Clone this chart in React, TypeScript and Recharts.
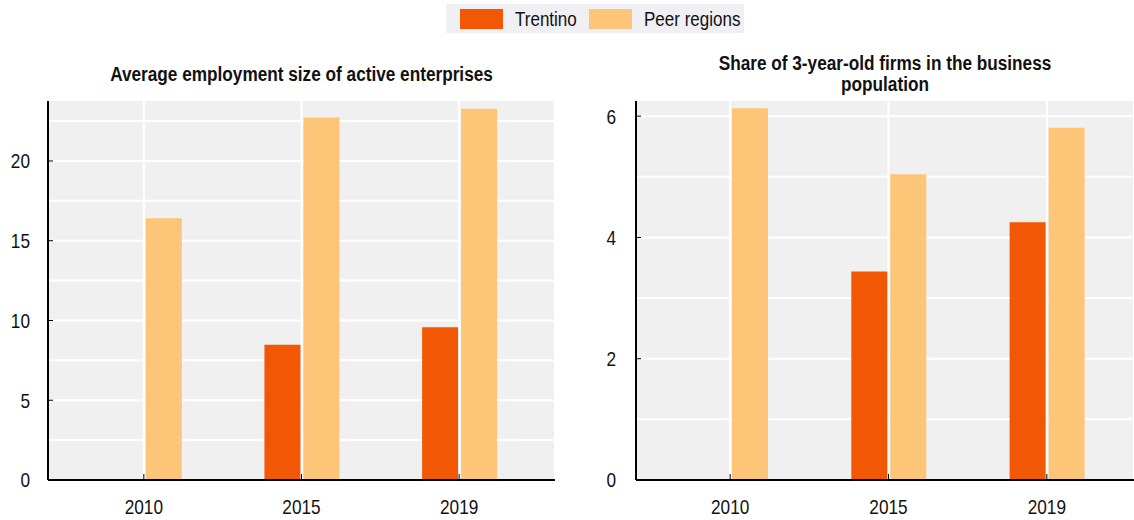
import { Bar, BarChart, CartesianGrid, XAxis, YAxis } from "recharts";

const years = ["2010", "2015", "2019"];

// average employment size of active enterprises
const employTrentino = [null, 8.48, 9.57];
const employPeer = [16.41, 22.72, 23.28];
const employTicks = [0, 5, 10, 15, 20];
const employGrid = [2.5, 5, 7.5, 10, 12.5, 15, 17.5, 20, 22.5];

// share of 3-year-old firms
const shareTrentino = [null, 3.44, 4.25];
const sharePeer = [6.13, 5.04, 5.81];
const shareTicks = [0, 2, 4, 6];
const shareGrid = [1, 2, 3, 4, 5, 6];

// no narrow font installed, so squeeze Liberation Sans
const FONT = "'Liberation Sans', Arial, sans-serif";
const SQUEEZE = 0.82;
const TRENTINO = "#f25705";
const PEER = "#fdc578";

function NarrowTick(props: any) {
  const { x, y, payload, textAnchor, orientation } = props;
  const dy = orientation === "bottom" ? "0.71em" : "0.355em";
  return (
    <text
      transform={`translate(${x},${y}) scale(${SQUEEZE},1)`}
      textAnchor={textAnchor}
      dy={dy}
      fill="#111"
      fontSize={21}
      fontFamily={FONT}
    >
      {payload.value}
    </text>
  );
}

function Panel({
  trentino,
  peer,
  ticks,
  grid,
  top,
  width,
  axisWidth,
  padLeft,
  padRight,
  labelGap,
}: {
  trentino: (number | null)[];
  peer: number[];
  ticks: number[];
  grid: number[];
  top: number;
  width: number;
  axisWidth: number;
  padLeft: number;
  padRight: number;
  labelGap: number;
}) {
  const data = years.map((year, i) => ({ year, trentino: trentino[i], peer: peer[i] }));
  return (
    <BarChart
      width={width}
      height={520}
      data={data}
      margin={{ top: 101, right: 0, bottom: 0, left: 0 }}
      barGap={3}
      barCategoryGap="26.5%"
    >
      <CartesianGrid
        fill="#f0f0f0"
        fillOpacity={1}
        stroke="#ffffff"
        strokeWidth={2}
        horizontalValues={grid}
      />
      <XAxis
        dataKey="year"
        height={40}
        interval={0}
        padding={{ left: padLeft, right: padRight }}
        axisLine={{ stroke: "#000", strokeWidth: 2 }}
        tickLine={{ stroke: "#000" }}
        tickSize={-6}
        tickMargin={25}
        tick={(p: any) => <NarrowTick {...p} orientation="bottom" />}
      />
      <YAxis
        type="number"
        width={axisWidth}
        domain={[0, top]}
        ticks={ticks}
        interval={0}
        axisLine={{ stroke: "#000", strokeWidth: 2 }}
        tickLine={{ stroke: "#000" }}
        tickSize={-5}
        tickMargin={labelGap}
        tick={(p: any) => <NarrowTick {...p} orientation="left" />}
      />
      <Bar dataKey="trentino" fill={TRENTINO} isAnimationActive={false} />
      <Bar dataKey="peer" fill={PEER} isAnimationActive={false} />
    </BarChart>
  );
}

const squeezed = {
  position: "absolute" as const,
  whiteSpace: "nowrap" as const,
  transformOrigin: "left center",
};

export default function App() {
  return (
    <div
      style={{
        position: "absolute",
        left: 0,
        top: 0,
        width: 1134,
        height: 520,
        background: "#fff",
        fontFamily: FONT,
        color: "#111",
      }}
    >
      <div
        style={{
          position: "absolute",
          left: 446,
          top: 4,
          width: 298,
          height: 29,
          background: "#f0eff3",
          fontSize: 21,
          lineHeight: "29px",
        }}
      >
        <span style={{ position: "absolute", left: 14, top: 5, width: 43, height: 20, background: TRENTINO }} />
        <span style={{ ...squeezed, left: 69, top: 0, transform: "scaleX(0.81)" }}>Trentino</span>
        <span style={{ position: "absolute", left: 143, top: 5, width: 43, height: 20, background: PEER }} />
        <span style={{ ...squeezed, left: 198, top: 0, transform: "scaleX(0.81)" }}>Peer regions</span>
      </div>

      <div
        style={{
          position: "absolute",
          left: 48,
          top: 64,
          width: 507,
          textAlign: "center",
          fontWeight: "bold",
          fontSize: 20,
          lineHeight: "21px",
          whiteSpace: "nowrap",
          transform: "scaleX(0.86)",
          transformOrigin: "center",
        }}
      >
        Average employment size of active enterprises
      </div>
      <div
        style={{
          position: "absolute",
          left: 636,
          top: 53,
          width: 498,
          textAlign: "center",
          fontWeight: "bold",
          fontSize: 20,
          lineHeight: "21px",
          whiteSpace: "nowrap",
          transform: "scaleX(0.86)",
          transformOrigin: "center",
        }}
      >
        Share of 3-year-old firms in the business
        <br />
        population
      </div>

      <div style={{ position: "absolute", left: 0, top: 0 }}>
        <Panel
          trentino={employTrentino}
          peer={employPeer}
          ticks={employTicks}
          grid={employGrid}
          top={23.76}
          width={555}
          axisWidth={48}
          padLeft={17}
          padRight={17}
          labelGap={23}
        />
      </div>
      <div style={{ position: "absolute", left: 570, top: 0 }}>
        <Panel
          trentino={shareTrentino}
          peer={sharePeer}
          ticks={shareTicks}
          grid={shareGrid}
          top={6.25}
          width={564}
          axisWidth={66}
          padLeft={15}
          padRight={8}
          labelGap={25}
        />
      </div>
    </div>
  );
}
